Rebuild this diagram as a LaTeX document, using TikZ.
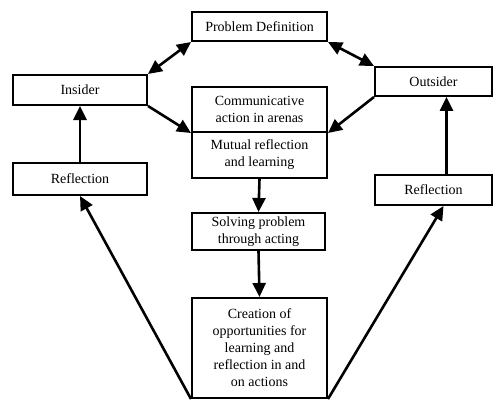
\documentclass[tikz,border=0pt]{standalone}
\usepackage{fontspec}
\setmainfont{Liberation Serif}
\usetikzlibrary{arrows.meta}
\begin{document}
\begin{tikzpicture}[x=1pt,y=-1pt,
  box/.style={draw=black,line width=2pt,fill=white,inner sep=2pt,align=center,
    font=\fontsize{14}{17}\selectfont},
  arr/.style={line width=2.6pt,-{Triangle[length=14pt,width=13pt]}},
  darr/.style={line width=2.6pt,{Triangle[length=14pt,width=13pt]}-{Triangle[length=14pt,width=13pt]}}]
\useasboundingbox (0,0) rectangle (500,401);
\node[box,minimum width=135pt,minimum height=29pt] (pd) at (259.5,26.5) {Problem Definition};
\node[box,minimum width=134pt,minimum height=30pt] (ins) at (80,90) {Insider};
\node[box,minimum width=134pt,minimum height=32pt] (refL) at (80,179) {Reflection};
\node[box,minimum width=135pt,minimum height=45pt] (midtop) at (259.5,109.5) {Communicative\\action in arenas};
\node[box,minimum width=135pt,minimum height=46pt] (midbot) at (259.5,155) {Mutual reflection\\and learning};
\node[box,minimum width=117pt,minimum height=29pt] (out) at (433.5,81.5) {Outsider};
\node[box,minimum width=117pt,minimum height=30pt] (refR) at (433.5,190) {Reflection};
\node[box,minimum width=133pt,minimum height=37pt] (solve) at (258.5,231.5) {Solving problem\\through acting};
\node[box,minimum width=135pt,minimum height=100pt] (create) at (259.5,348) {Creation of\\opportunities for\\learning and\\reflection in and\\on actions};
\draw[darr] (pd.south west) -- (ins.north east);
\draw[darr] (pd.south east) -- (out.north west);
\draw[arr] (ins.south east) -- (midtop.south west);
\draw[arr] (out.south west) -- (midtop.south east);
\draw[arr] (midbot.south) -- (solve.north);
\draw[arr] (solve.south) -- (create.north);
\draw[arr] (refL.north) -- (ins.south);
\draw[arr] ([xshift=13pt]refR.north) -- ([xshift=13pt]out.south);
\draw[arr] (create.south west) -- (refL.south);
\draw[arr] (create.south east) -- ([xshift=10pt]refR.south);
\end{tikzpicture}
\end{document}
